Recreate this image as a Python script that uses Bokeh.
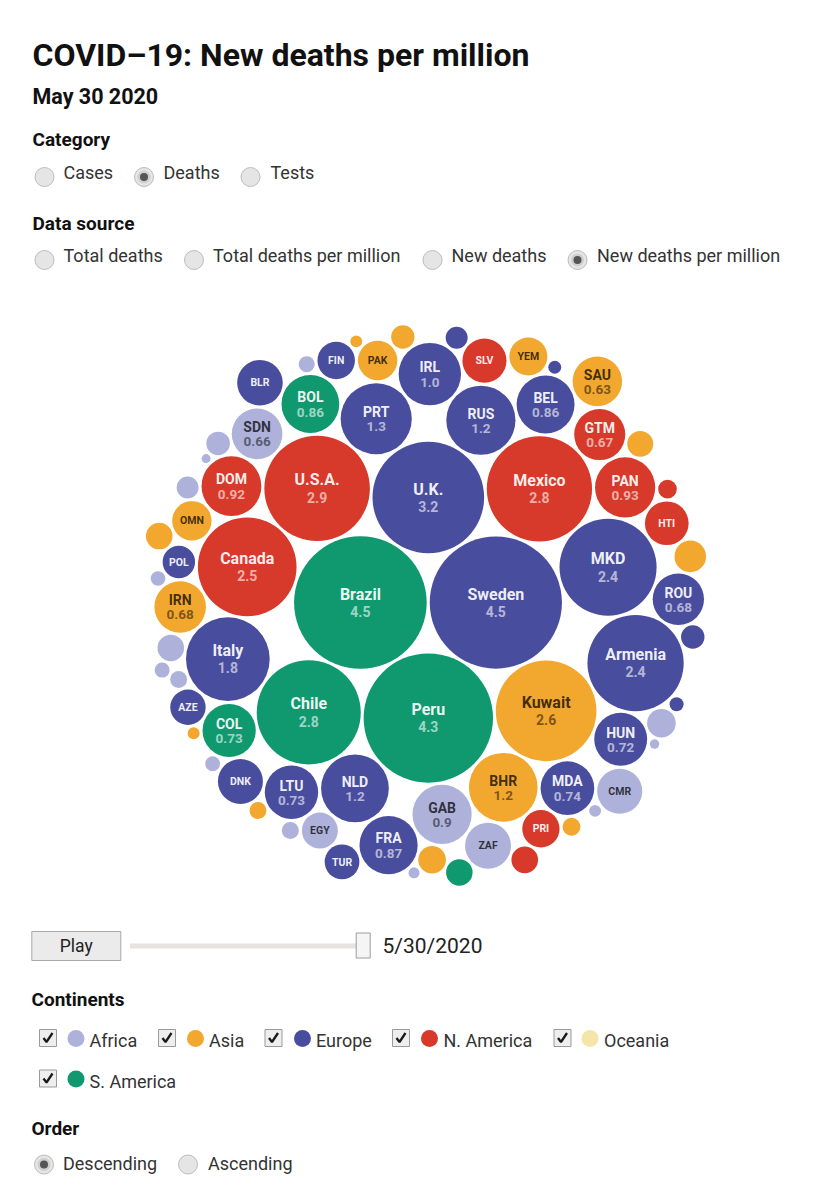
import math
from bokeh.plotting import figure
from bokeh.models import Range1d, ColumnDataSource
from bokeh.core.properties import value
from bokeh.embed import file_html
from bokeh.resources import INLINE

# ---------------- data ----------------
names = ["Brazil", "Sweden", "Peru", "U.K.", "U.S.A.", "Mexico", "Chile", "Kuwait",
         "Canada", "MKD", "Armenia", "Italy", "PRT", "RUS", "BHR", "NLD", "IRL",
         "PAN", "DOM", "GAB", "FRA", "BEL", "BOL", "MDA", "LTU", "COL", "HUN",
         "IRN", "ROU", "GTM", "SDN", "SAU", "ZAF", "BLR", "CMR", "DNK", "SLV",
         "HTI", "PAK", "OMN", "YEM", "FIN", "PRI", "EGY", "AZE", "TUR", "POL",
         "", "", "", "", "", "", "", "", "", "", "", "", "", "", "",
         "", "", "", "", "", "", "", "", "", "", "", "", "", "", ""]
values = [4.52, 4.49, 4.3, 3.2, 2.86, 2.845, 2.78, 2.6,
          2.5, 2.42, 2.38, 1.8, 1.3, 1.23, 1.21, 1.18, 1.0,
          0.93, 0.92, 0.90, 0.87, 0.862, 0.858, 0.74, 0.732, 0.728, 0.72,
          0.682, 0.678, 0.67, 0.66, 0.63, 0.543, 0.534, 0.522, 0.52, 0.50,
          0.49, 0.40, 0.398, 0.371, 0.36, 0.358, 0.333, 0.322, 0.31, 0.27,
          0.256, 0.21, 0.196, 0.183, 0.182, 0.181, 0.18, 0.174, 0.143, 0.141, 0.14,
          0.124, 0.123, 0.089, 0.083, 0.075, 0.074, 0.073, 0.066, 0.058, 0.057, 0.055,
          0.05, 0.043, 0.037, 0.0365, 0.036, 0.031, 0.023, 0.021]
continents = ["S. America", "Europe", "S. America", "Europe", "N. America", "N. America",
              "S. America", "Asia", "N. America", "Europe", "Europe", "Europe", "Europe",
              "Europe", "Asia", "Europe", "Europe", "N. America", "N. America", "Africa",
              "Europe", "Europe", "S. America", "Europe", "Europe", "S. America", "Europe",
              "Asia", "Europe", "N. America", "Africa", "Asia", "Africa", "Europe", "Africa",
              "Europe", "N. America", "N. America", "Asia", "Asia", "Asia", "Europe",
              "N. America", "Africa", "Europe", "Europe", "Europe",
              "Asia", "Africa", "Asia", "N. America", "Asia", "Africa", "S. America", "Asia",
              "Africa", "Europe", "Asia", "Europe", "Africa", "N. America", "Asia", "Africa",
              "Africa", "Asia", "Africa", "Africa", "Africa", "Africa", "Europe", "Europe",
              "Asia", "Africa", "Asia", "Africa", "Africa", "Africa"]

legend_names = ["Africa", "Asia", "Europe", "N. America", "Oceania", "S. America"]
legend_colors = ["#aeb2db", "#f2a72e", "#494d9e", "#d7392b", "#f5e5a8", "#10996e"]
dark_text = {"Africa": True, "Asia": True, "Oceania": True}

title_text = "COVID\u201319: New deaths per million"
date_text = "May 30 2020"
slider_date = "5/30/2020"
category_opts = ["Cases", "Deaths", "Tests"]
source_opts = ["Total deaths", "Total deaths per million", "New deaths", "New deaths per million"]
order_opts = ["Descending", "Ascending"]

# ---------------- circle packing (front-chain, like d3.packSiblings) ----------------
K = 31.2      # px per sqrt(value)
PAD = 3.0     # gap between bubbles
CX, CY = 425.5, 605.0   # centre of the pack on the page


class Node:
    def __init__(self, c):
        self.c = c
        self.next = None
        self.prev = None


def place(b, a, c):
    dx = b["x"] - a["x"]
    dy = b["y"] - a["y"]
    d2 = dx * dx + dy * dy
    if d2:
        a2 = (a["r"] + c["r"]) ** 2
        b2 = (b["r"] + c["r"]) ** 2
        if a2 > b2:
            x = (d2 + b2 - a2) / (2 * d2)
            y = math.sqrt(max(0.0, b2 / d2 - x * x))
            c["x"] = b["x"] - x * dx - y * dy
            c["y"] = b["y"] - x * dy + y * dx
        else:
            x = (d2 + a2 - b2) / (2 * d2)
            y = math.sqrt(max(0.0, a2 / d2 - x * x))
            c["x"] = a["x"] + x * dx - y * dy
            c["y"] = a["y"] + x * dy + y * dx
    else:
        c["x"] = a["x"] + c["r"]
        c["y"] = a["y"]


def intersects(a, b):
    dr = a["r"] + b["r"] - 1e-6
    dx = b["x"] - a["x"]
    dy = b["y"] - a["y"]
    return dr > 0 and dr * dr > dx * dx + dy * dy


def score(node):
    a = node.c
    b = node.next.c
    ab = a["r"] + b["r"]
    dx = (a["x"] * b["r"] + b["x"] * a["r"]) / ab
    dy = (a["y"] * b["r"] + b["y"] * a["r"]) / ab
    return dx * dx + dy * dy


def pack_siblings(circles):
    n = len(circles)
    a = circles[0]
    a["x"], a["y"] = 0.0, 0.0
    if n < 2:
        return
    b = circles[1]
    a["x"] = -b["r"]
    b["x"] = a["r"]
    b["y"] = 0.0
    if n < 3:
        return
    c = circles[2]
    place(b, a, c)
    a, b, c = Node(a), Node(b), Node(c)
    a.next = c.prev = b
    b.next = a.prev = c
    c.next = b.prev = a
    i = 3
    while i < n:
        cc = circles[i]
        place(a.c, b.c, cc)
        cn = Node(cc)
        j, k = b.next, a.prev
        sj, sk = b.c["r"], a.c["r"]
        retry = False
        while True:
            if sj <= sk:
                if intersects(j.c, cn.c):
                    b = j
                    a.next = b
                    b.prev = a
                    retry = True
                    break
                sj += j.c["r"]
                j = j.next
            else:
                if intersects(k.c, cn.c):
                    a = k
                    a.next = b
                    b.prev = a
                    retry = True
                    break
                sk += k.c["r"]
                k = k.prev
            if j is k.next:
                break
        if retry:
            continue
        cn.prev = a
        cn.next = b
        a.next = cn
        b.prev = cn
        b = cn
        aa = score(a)
        t = cn
        while True:
            t = t.next
            if t is b:
                break
            ca = score(t)
            if ca < aa:
                a, aa = t, ca
        b = a.next
        i += 1


order = sorted(range(len(values)), key=lambda i: -values[i])
circles = [dict(i=i, r=K * math.sqrt(values[i]) + PAD / 2, x=0.0, y=0.0) for i in order]
pack_siblings(circles)
for c in circles:
    c["r"] -= PAD / 2
minx = min(c["x"] - c["r"] for c in circles)
maxx = max(c["x"] + c["r"] for c in circles)
miny = min(c["y"] - c["r"] for c in circles)
maxy = max(c["y"] + c["r"] for c in circles)
ox = CX - (minx + maxx) / 2
oy = CY - (miny + maxy) / 2

col_of = dict(zip(legend_names, legend_colors))
bx, by, br, bc = [], [], [], []
for c in circles:
    bx.append(c["x"] + ox)
    by.append(c["y"] + oy)
    br.append(c["r"])
    bc.append(col_of[continents[c["i"]]])


def fmt(v):
    s = f"{v:.2g}"
    return s if "." in s else s + ".0"


# the SVG text of Bokeh sits ~0.37em below the requested alphabetic baseline
def base(y, size):
    return y - 0.37 * size


def new_src():
    return dict(x=[], y=[], t=[], col=[], a=[])


big_n, mid_n, sml_n, big_v, mid_v = new_src(), new_src(), new_src(), new_src(), new_src()


def add(d, x, y, t, col, a):
    d["x"].append(x); d["y"].append(y); d["t"].append(t); d["col"].append(col); d["a"].append(a)


for c, x, y, r in zip(circles, bx, by, br):
    i = c["i"]
    if not names[i]:
        continue
    dark = dark_text.get(continents[i], False)
    tc = "#000000" if dark else "#ffffff"
    na = 0.74 if dark else 0.93
    va = 0.5 if dark else 0.6
    v = values[i]
    if r >= 40:
        add(big_n, x, base(y - 2.5, 16), names[i], tc, na)
        add(big_v, x, base(y + 14, 14), fmt(v), tc, va)
    elif v >= 0.6:
        add(mid_n, x, base(y - 1.5, 14), names[i], tc, na)
        add(mid_v, x, base(y + 13, 13.5), fmt(v), tc, va)
    else:
        add(sml_n, x, base(y + 4, 10.5), names[i], tc, na)

# ---------------- figure ----------------
W, H = 831, 1200
p = figure(width=W, height=H, x_range=Range1d(0, W), y_range=Range1d(H, 0),
           output_backend="svg", toolbar_location=None, min_border=0,
           x_axis_location=None, y_axis_location=None)
p.grid.grid_line_color = None
p.outline_line_color = None
p.background_fill_color = "white"
p.border_fill_color = "white"

FONT = value("Roboto")

p.circle(x=bx, y=by, radius=br, fill_color=bc, line_color=None)

for src, size in [(big_n, 16), (mid_n, 14), (sml_n, 10.5), (big_v, 14), (mid_v, 13.5)]:
    p.text(x="x", y="y", text="t", source=ColumnDataSource(src), text_color="col",
           text_alpha="a", text_font=FONT, text_font_size=f"{size}px", text_font_style="bold",
           text_align="center", text_baseline="alphabetic")

# ---------------- header texts ----------------
p.text(x=[32], y=[base(66, 32)], text=[title_text], text_font=FONT, text_font_size="32px",
       text_font_style="bold", text_color="#111111", text_baseline="alphabetic")
p.text(x=[32], y=[base(104, 21.5)], text=[date_text], text_font=FONT, text_font_size="21.5px",
       text_font_style="bold", text_color="#111111", text_baseline="alphabetic")
p.text(x=[32, 32, 31, 31], y=[base(yy, 19) for yy in [146.5, 230, 1006, 1135]],
       text=["Category", "Data source", "Continents", "Order"], text_font=FONT,
       text_font_size="19px", text_font_style="bold", text_color="#111111",
       text_baseline="alphabetic")


def radios(xs, y, labels, lxs, sel, ly):
    p.circle(x=xs, y=[y] * len(xs), radius=9.5, fill_color="#e5e5e5", line_color="#bcbcbc", line_width=1)
    p.circle(x=[xs[sel]], y=[y], radius=6.5, fill_color="#cfcfcf", line_color=None)
    p.circle(x=[xs[sel]], y=[y], radius=4, fill_color="#555555", line_color=None)
    p.text(x=lxs, y=[base(ly, 18)] * len(lxs), text=labels, text_font=FONT, text_font_size="18px",
           text_color="#333333", text_baseline="alphabetic")


radios([44, 143.5, 250], 176.5, category_opts, [63, 163, 270], 1, 179)
radios([44, 193.5, 432, 577], 259.5, source_opts, [63, 212.5, 451, 596.5], 3, 262)
radios([43.5, 187.5], 1164, order_opts, [62.5, 207.5], 0, 1170)

# ---------------- play / slider ----------------
p.rect(x=[75.8], y=[945.5], width=89, height=29, fill_color="#ebebeb", line_color="#a8a8a8")
p.text(x=[75.8], y=[base(952, 17.5)], text=["Play"], text_font=FONT, text_font_size="17.5px",
       text_color="#222222", text_align="center", text_baseline="alphabetic")
p.rect(x=[246], y=[945.5], width=233, height=5, fill_color="#e7e3de", line_color=None)
p.rect(x=[362.7], y=[945], width=14, height=25, fill_color="#f5f5f5", line_color="#9c9c9c")
p.text(x=[382], y=[base(953, 21)], text=[slider_date], text_font=FONT, text_font_size="21px",
       text_color="#222222", text_baseline="alphabetic")

# ---------------- continent checkboxes ----------------
cb_x = [47.5, 166.5, 273, 400.5, 562, 47.5]
cb_y = [1037.5] * 5 + [1078]
dot_x = [75.5, 195, 302, 429, 589.5, 75.5]
lab_x = [89, 208.5, 315.5, 443, 603.5, 89]
p.rect(x=cb_x, y=cb_y, width=17, height=17, fill_color="#eeeeee", line_color="#9a9a9a")
p.multi_line(xs=[[x - 4.5, x - 1.5, x + 4.5] for x in cb_x],
             ys=[[y, y + 4, y - 5] for y in cb_y], line_color="#1a1a1a", line_width=2.3)
p.circle(x=dot_x, y=[y + 0.5 for y in cb_y], radius=8.5, fill_color=legend_colors, line_color=None)
p.text(x=lab_x, y=[base(y + 9.5, 18) for y in cb_y], text=legend_names, text_font=FONT,
       text_font_size="18px", text_color="#333333", text_baseline="alphabetic")

open("out.html", "w").write(file_html(p, INLINE))
